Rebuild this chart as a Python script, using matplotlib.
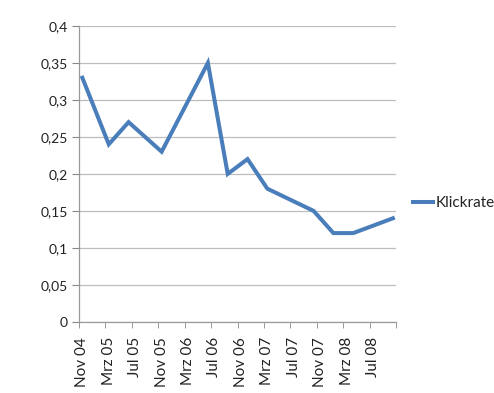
import pandas as pd
import matplotlib
matplotlib.use("Agg")
import matplotlib.pyplot as plt
from matplotlib.ticker import FuncFormatter

# Klickrate
dates = ["2004-11", "2005-03", "2005-06", "2005-11", "2006-06", "2006-09",
         "2006-12", "2007-03", "2007-10", "2008-01", "2008-04", "2008-10"]
klickrate = [0.33, 0.24, 0.27, 0.23, 0.35, 0.20, 0.22, 0.18, 0.15, 0.12, 0.12, 0.14]

month_names = ["Jan", "Feb", "Mrz", "Apr", "Mai", "Jun",
               "Jul", "Aug", "Sep", "Okt", "Nov", "Dez"]
axis_start = pd.Period("2004-11", freq="M")
axis_months = 48
label_step = 4

plt.rcParams["font.family"] = ["Lato", "DejaVu Sans"]

periods = pd.PeriodIndex(dates, freq="M")
x = [(p - axis_start).n for p in periods]

fig = plt.figure(figsize=(4.94, 3.93), dpi=100)
ax = fig.add_axes([0.16, 0.181, 0.642, 0.753])

ax.plot(x, klickrate, color="#4a7ebb", linewidth=2.9, solid_joinstyle="miter",
        label="Klickrate", zorder=3)

ax.set_xlim(-0.5, axis_months - 0.5)
ax.set_ylim(0, 0.4)
ax.set_yticks([i * 0.05 for i in range(9)])
ax.yaxis.set_major_formatter(FuncFormatter(
    lambda v, pos: ("%g" % round(v, 2)).replace(".", ",")))

label_pos = list(range(0, axis_months, label_step))
labels = []
for m in label_pos:
    p = axis_start + m
    labels.append("%s %02d" % (month_names[p.month - 1], p.year % 100))
ax.set_xticks(label_pos)
ax.set_xticklabels(labels, rotation=90)
ax.set_xticks([m - 0.5 for m in range(0, axis_months + 1, label_step)], minor=True)
ax.tick_params(axis="x", which="major", length=0, pad=11, labelsize=11, colors="#222222")
ax.tick_params(axis="x", which="minor", length=4, color="#888888", direction="out")
ax.tick_params(axis="y", length=5, color="#888888", labelsize=10, pad=3)
ax.tick_params(axis="y", colors="#888888", labelcolor="#222222")

ax.grid(axis="y", color="#bdbdbd", linewidth=0.9)
ax.set_axisbelow(True)
for side in ["top", "right"]:
    ax.spines[side].set_visible(False)
for side in ["left", "bottom"]:
    ax.spines[side].set_color("#9a9a9a")
    ax.spines[side].set_linewidth(0.9)

leg = fig.legend(loc="center left", bbox_to_anchor=(0.808, 0.483), frameon=False,
                 handlelength=1.3, handletextpad=0.2, fontsize=11)
for t in leg.get_texts():
    t.set_color("#222222")

fig.savefig("out.png", dpi=100)
